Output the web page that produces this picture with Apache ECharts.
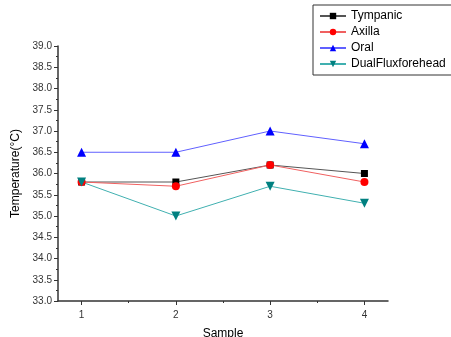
<!DOCTYPE html>
<html>
<head>
<meta charset="utf-8">
<script src="https://cdn.jsdelivr.net/npm/echarts@6/dist/echarts.min.js"></script>
<style>
  html, body { margin: 0; padding: 0; background: #fff; }
  #chart { width: 451px; height: 337px; }
</style>
</head>
<body>
<div id="chart"></div>
<script>
// sample numbers on x
const samples = [1, 2, 3, 4]
const tympanic = [35.8, 35.8, 36.2, 36.0]
const axilla = [35.8, 35.7, 36.2, 35.8]
const oral = [36.5, 36.5, 37.0, 36.7]
const dualFlux = [35.8, 35.0, 35.7, 35.3]
const minorX = [1.5, 2.5, 3.5]

const font = 'Arial, "Liberation Sans", sans-serif'
const pts = (vals) => vals.map((v, i) => [samples[i], v])

const mkSeries = (name, vals, color, lineColor, symbol, size, rotate) => ({
  name,
  type: 'line',
  data: pts(vals),
  symbol,
  symbolSize: size,
  symbolRotate: rotate || 0,
  itemStyle: { color },
  lineStyle: { color: lineColor, width: 1 },
  emphasis: { disabled: true }
})

const chart = echarts.init(document.getElementById('chart'))
chart.setOption({
  animation: false,
  grid: { left: 58, top: 46, right: 63, bottom: 36, outerBoundsMode: 'none' },
  legend: {
    orient: 'vertical',
    left: 313,
    top: 5,
    width: 132,
    borderColor: '#333',
    borderWidth: 1,
    padding: [5, 8, 5, 6],
    itemGap: 4,
    itemWidth: 26,
    itemHeight: 8,
    textStyle: { fontFamily: font, fontSize: 12, color: '#000' },
    data: ['Tympanic', 'Axilla', 'Oral', 'DualFluxforehead']
  },
  xAxis: [{
    type: 'value',
    min: 0.75,
    max: 4.25,
    name: 'Sample',
    nameLocation: 'middle',
    nameGap: 27,
    nameTextStyle: { fontFamily: font, fontSize: 12, color: '#000' },
    splitLine: { show: false },
    axisLine: { lineStyle: { color: '#333', width: 1.5 } },
    axisTick: { show: true, customValues: samples, length: 4, lineStyle: { color: '#333' } },
    axisLabel: { customValues: samples, fontFamily: font, fontSize: 10, color: '#333', margin: 9 }
  }, {
    type: 'value',
    min: 0.75,
    max: 4.25,
    position: 'bottom',
    splitLine: { show: false },
    axisLine: { show: false },
    axisTick: { show: true, customValues: minorX, length: 2, lineStyle: { color: '#333' } },
    axisLabel: { show: false }
  }],
  yAxis: {
    type: 'value',
    min: 33,
    max: 39,
    interval: 0.5,
    name: 'Temperature(\u00b0C)',
    nameLocation: 'middle',
    nameGap: 34,
    nameTextStyle: { fontFamily: font, fontSize: 12, color: '#000' },
    splitLine: { show: false },
    axisLine: { show: true, lineStyle: { color: '#333', width: 1.5 } },
    axisTick: { show: true, length: 4, lineStyle: { color: '#333' } },
    minorTick: { show: true, splitNumber: 2, length: 2, lineStyle: { color: '#333' } },
    axisLabel: { fontFamily: font, fontSize: 10, color: '#333', margin: 6, formatter: (v) => v.toFixed(1) }
  },
  series: [
    mkSeries('Tympanic', tympanic, '#000', '#555', 'rect', 7),
    mkSeries('Axilla', axilla, '#ff0000', '#f06060', 'circle', 8),
    mkSeries('Oral', oral, '#0000ff', '#6060ff', 'triangle', 9),
    mkSeries('DualFluxforehead', dualFlux, '#008080', '#40b0b0', 'triangle', 9, 180)
  ]
})
</script>
</body>
</html>
